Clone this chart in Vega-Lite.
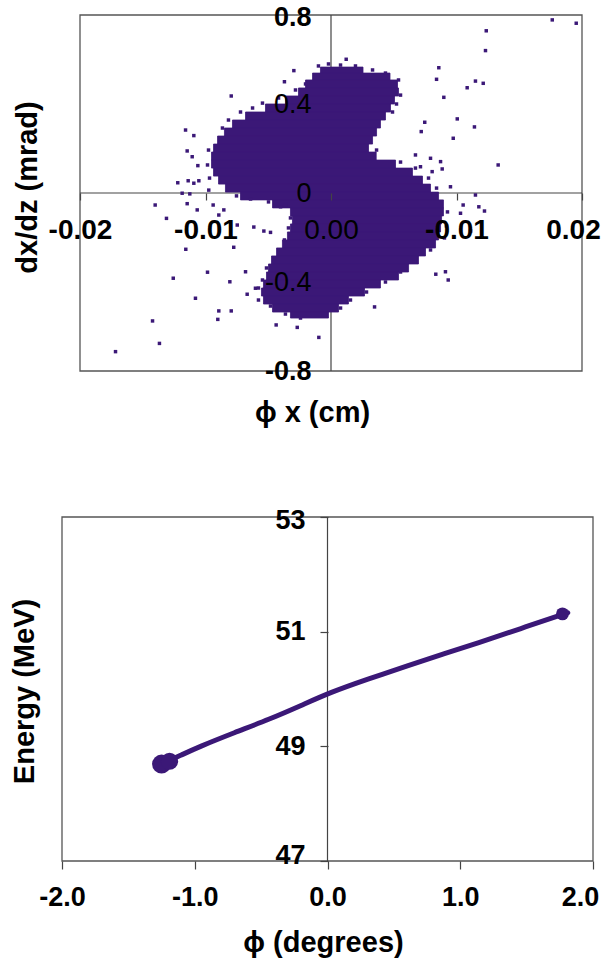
{
"$schema": "https://vega.github.io/schema/vega-lite/v6.json",
"width": 602, "height": 962, "autosize": "none", "padding": 0,
"background": "white",
"config": {"view": {"stroke": null}, "font": "Liberation Sans",
  "axis": {"labelFont": "Liberation Sans", "titleFont": "Liberation Sans", "labelColor": "#000", "titleColor": "#000", "tickColor": "#444", "tickWidth": 1.2, "grid": false, "domain": false, "labelOverlap": false, "labelBound": false, "labelFlush": false}},
"resolve": {"scale": {"x": "independent", "y": "independent"}},
"layer": [
{
 "layer": [
  {"data": {"values": [{"x1": -0.02, "x2": 0.02, "y1": -0.8, "y2": 0.8}]},
   "mark": {"type": "rect", "filled": false, "stroke": "#555", "strokeWidth": 1.3},
   "encoding": {
    "x": {"field": "x1", "type": "quantitative", "scale": {"domain": [-0.02, 0.02], "range": [80, 582], "nice": false, "zero": false},
      "axis": {"title": "ϕ x (cm)", "orient": "bottom", "offset": -769, "zindex": 1, "values": [-0.02, -0.01, 0, 0.01, 0.02], "tickSize": 7,
        "labelExpr": "datum.value == 0 ? '0.00' : datum.value > 0.015 ? '0.02' : datum.value > 0 ? '-0.01' : datum.value < -0.015 ? '-0.02' : '-0.01'",
        "labelFontSize": 28, "labelFontWeight": {"condition": {"test": "datum.value == 0", "value": "normal"}, "value": "bold"},
        "labelOffset": {"condition": {"test": "datum.value > 0.015", "value": -9}, "value": 0},
        "labelBaseline": "middle", "labelPadding": 30,
        "titleFontSize": 29, "titleFontWeight": "bold", "titleX": 312, "titleY": 219, "titleAlign": "center", "titleBaseline": "middle", "titleAngle": 0}},
    "x2": {"field": "x2"},
    "y": {"field": "y1", "type": "quantitative", "scale": {"domain": [-0.8, 0.8], "range": [371, 15], "nice": false, "zero": false},
      "axis": {"title": "dx/dz (mrad)", "orient": "left", "offset": -330, "zindex": 1, "values": [-0.8, -0.4, 0, 0.4, 0.8], "ticks": false, "tickSize": 0,
        "labelExpr": "datum.value == 0 ? '0' : (datum.value < 0 ? '-' : '') + format(abs(datum.value), '.1f')",
        "labelFontSize": 27, "labelFontWeight": {"condition": {"test": "abs(datum.value) < 0.5", "value": "normal"}, "value": "bold"},
        "labelOffset": {"condition": {"test": "datum.value > 0.7", "value": 2}, "value": 0},
        "labelBaseline": "middle", "labelAlign": "right", "labelPadding": 19,
        "titleFontSize": 29, "titleFontWeight": "bold", "titleX": -303, "titleY": 187, "titleAngle": -90, "titleAlign": "center", "titleBaseline": "middle"}},
    "y2": {"field": "y2"}}},
  {"data": {"values": [{"x1": -0.02, "x2": 0.02, "y1": 0, "y2": 0}, {"x1": 0, "x2": 0, "y1": -0.8, "y2": 0.8}]},
   "mark": {"type": "rule", "color": "#444", "strokeWidth": 1.2},
   "encoding": {
    "x": {"field": "x1", "type": "quantitative", "scale": {"domain": [-0.02, 0.02], "range": [80, 582], "nice": false, "zero": false}},
    "x2": {"field": "x2"},
    "y": {"field": "y1", "type": "quantitative", "scale": {"domain": [-0.8, 0.8], "range": [371, 15], "nice": false, "zero": false}},
    "y2": {"field": "y2"}}},
  {"data": {"values": [
    {"x1": -0.00084, "x2": 0.00255, "y1": 0.539, "y2": 0.566},
    {"x1": -0.00147, "x2": 0.00470, "y1": 0.508, "y2": 0.539},
    {"x1": -0.00203, "x2": 0.00530, "y1": 0.472, "y2": 0.508},
    {"x1": -0.00259, "x2": 0.00538, "y1": 0.436, "y2": 0.472},
    {"x1": -0.00363, "x2": 0.00506, "y1": 0.400, "y2": 0.436},
    {"x1": -0.00522, "x2": 0.00474, "y1": 0.364, "y2": 0.400},
    {"x1": -0.00681, "x2": 0.00434, "y1": 0.328, "y2": 0.364},
    {"x1": -0.00785, "x2": 0.00394, "y1": 0.292, "y2": 0.328},
    {"x1": -0.00849, "x2": 0.00363, "y1": 0.256, "y2": 0.292},
    {"x1": -0.00904, "x2": 0.00331, "y1": 0.220, "y2": 0.256},
    {"x1": -0.00936, "x2": 0.00299, "y1": 0.184, "y2": 0.220},
    {"x1": -0.00952, "x2": 0.00360, "y1": 0.148, "y2": 0.184},
    {"x1": -0.00952, "x2": 0.00514, "y1": 0.112, "y2": 0.148},
    {"x1": -0.00936, "x2": 0.00649, "y1": 0.076, "y2": 0.112},
    {"x1": -0.00896, "x2": 0.00729, "y1": 0.040, "y2": 0.076},
    {"x1": -0.00841, "x2": 0.00793, "y1": 0.004, "y2": 0.040},
    {"x1": -0.00721, "x2": 0.00857, "y1": -0.031, "y2": 0.004},
    {"x1": -0.00466, "x2": 0.00896, "y1": -0.067, "y2": -0.031},
    {"x1": -0.00323, "x2": 0.00896, "y1": -0.103, "y2": -0.067},
    {"x1": -0.00307, "x2": 0.00881, "y1": -0.139, "y2": -0.103},
    {"x1": -0.00323, "x2": 0.00873, "y1": -0.175, "y2": -0.139},
    {"x1": -0.00347, "x2": 0.00857, "y1": -0.211, "y2": -0.175},
    {"x1": -0.00387, "x2": 0.00833, "y1": -0.247, "y2": -0.211},
    {"x1": -0.00434, "x2": 0.00753, "y1": -0.283, "y2": -0.247},
    {"x1": -0.00474, "x2": 0.00697, "y1": -0.319, "y2": -0.283},
    {"x1": -0.00498, "x2": 0.00618, "y1": -0.355, "y2": -0.319},
    {"x1": -0.00514, "x2": 0.00538, "y1": -0.391, "y2": -0.355},
    {"x1": -0.00538, "x2": 0.00394, "y1": -0.427, "y2": -0.391},
    {"x1": -0.00554, "x2": 0.00267, "y1": -0.463, "y2": -0.427},
    {"x1": -0.00538, "x2": 0.00139, "y1": -0.499, "y2": -0.463},
    {"x1": -0.00466, "x2": 0.00060, "y1": -0.535, "y2": -0.499},
    {"x1": -0.00323, "x2": -0.00020, "y1": -0.562, "y2": -0.535}]},
   "mark": {"type": "rect", "color": "#3b1877", "stroke": "#3b1877", "strokeWidth": 0.8},
   "encoding": {
    "x": {"field": "x1", "type": "quantitative", "scale": {"domain": [-0.02, 0.02], "range": [80, 582], "nice": false, "zero": false}},
    "x2": {"field": "x2"},
    "y": {"field": "y1", "type": "quantitative", "scale": {"domain": [-0.8, 0.8], "range": [371, 15], "nice": false, "zero": false}},
    "y2": {"field": "y2"}}},
  {"data": {"values": [
    {"x1": 0.01763, "y1": 0.778}, {"x1": 0.01954, "y1": 0.763}, {"x1": 0.01237, "y1": 0.729}, {"x1": 0.01231, "y1": 0.640},
    {"x1": 0.00859, "y1": 0.563}, {"x1": 0.00841, "y1": 0.511}, {"x1": 0.01151, "y1": 0.503}, {"x1": 0.01213, "y1": 0.493},
    {"x1": 0.01085, "y1": 0.473}, {"x1": 0.00899, "y1": 0.430}, {"x1": 0.01006, "y1": 0.333}, {"x1": 0.01143, "y1": 0.297},
    {"x1": 0.00747, "y1": 0.318}, {"x1": 0.00719, "y1": 0.276}, {"x1": 0.00974, "y1": 0.246}, {"x1": 0.01332, "y1": 0.126},
    {"x1": 0.00121, "y1": 0.601}, {"x1": 0.00873, "y1": 0.141}, {"x1": 0.00793, "y1": 0.156}, {"x1": 0.00952, "y1": 0.028},
    {"x1": 0.01151, "y1": -0.009}, {"x1": 0.01178, "y1": -0.062}, {"x1": 0.01223, "y1": -0.081}, {"x1": 0.01032, "y1": -0.091},
    {"x1": 0.01112, "y1": -0.171}, {"x1": 0.01053, "y1": -0.054}, {"x1": 0.00835, "y1": -0.365}, {"x1": 0.00912, "y1": -0.354},
    {"x1": 0.00934, "y1": -0.391}, {"x1": 0.00347, "y1": -0.512}, {"x1": 0.00673, "y1": 0.171}, {"x1": 0.00713, "y1": 0.118},
    {"x1": 0.00806, "y1": 0.096}, {"x1": 0.00886, "y1": 0.108}, {"x1": -0.00296, "y1": 0.550}, {"x1": -0.00371, "y1": 0.500},
    {"x1": -0.00795, "y1": 0.436}, {"x1": -0.01159, "y1": 0.283}, {"x1": -0.01093, "y1": 0.258}, {"x1": -0.01146, "y1": 0.189},
    {"x1": -0.01106, "y1": 0.163}, {"x1": -0.01061, "y1": 0.123}, {"x1": -0.01221, "y1": 0.046}, {"x1": -0.01138, "y1": 0.055},
    {"x1": -0.01053, "y1": 0.055}, {"x1": -0.01093, "y1": 0.044}, {"x1": -0.00974, "y1": 0.013}, {"x1": -0.01186, "y1": -0.001},
    {"x1": -0.01125, "y1": -0.004}, {"x1": -0.01401, "y1": -0.054}, {"x1": -0.01146, "y1": -0.048}, {"x1": -0.01066, "y1": -0.076},
    {"x1": -0.01311, "y1": -0.114}, {"x1": -0.00939, "y1": -0.054}, {"x1": -0.00854, "y1": -0.076}, {"x1": -0.00894, "y1": -0.099},
    {"x1": -0.00747, "y1": -0.144}, {"x1": -0.00615, "y1": -0.153}, {"x1": -0.00535, "y1": -0.171}, {"x1": -0.01157, "y1": -0.253},
    {"x1": -0.00775, "y1": -0.244}, {"x1": -0.00984, "y1": -0.356}, {"x1": -0.00681, "y1": -0.354}, {"x1": -0.01257, "y1": -0.383},
    {"x1": -0.00806, "y1": -0.399}, {"x1": -0.00602, "y1": -0.428}, {"x1": -0.0108, "y1": -0.473}, {"x1": -0.00668, "y1": -0.455},
    {"x1": -0.00894, "y1": -0.530}, {"x1": -0.00795, "y1": -0.530}, {"x1": -0.00902, "y1": -0.568}, {"x1": -0.01422, "y1": -0.575},
    {"x1": -0.01367, "y1": -0.676}, {"x1": -0.01717, "y1": -0.713}, {"x1": -0.00437, "y1": -0.593}, {"x1": -0.00269, "y1": -0.604},
    {"x1": -0.00097, "y1": -0.649}, {"x1": -0.00402, "y1": -0.062}, {"x1": -0.00482, "y1": -0.177},
    {"x1": -0.00865, "y1": 0.292}, {"x1": -0.00817, "y1": 0.328}, {"x1": -0.00721, "y1": 0.364}, {"x1": -0.00625, "y1": 0.382},
    {"x1": -0.00546, "y1": 0.404}, {"x1": -0.00418, "y1": 0.427}, {"x1": -0.00283, "y1": 0.463}, {"x1": -0.00203, "y1": 0.490},
    {"x1": -0.001, "y1": 0.571}, {"x1": -0.0002, "y1": 0.580}, {"x1": 0.00076, "y1": 0.575}, {"x1": 0.00195, "y1": 0.571},
    {"x1": 0.00331, "y1": 0.553}, {"x1": 0.00434, "y1": 0.539}, {"x1": 0.00538, "y1": 0.508}, {"x1": 0.00554, "y1": 0.440},
    {"x1": 0.00522, "y1": 0.400}, {"x1": 0.0049, "y1": 0.364}, {"x1": -0.00976, "y1": 0.193}, {"x1": -0.00984, "y1": 0.126},
    {"x1": -0.00968, "y1": 0.067}, {"x1": 0.00928, "y1": -0.085}, {"x1": 0.0092, "y1": -0.148}, {"x1": 0.00904, "y1": -0.202},
    {"x1": 0.00793, "y1": -0.256}, {"x1": 0.00665, "y1": -0.310}, {"x1": 0.00554, "y1": -0.355}, {"x1": 0.00434, "y1": -0.400},
    {"x1": 0.00283, "y1": -0.445}, {"x1": 0.00155, "y1": -0.481}, {"x1": 0.00076, "y1": -0.517}, {"x1": -0.00243, "y1": -0.562},
    {"x1": -0.00363, "y1": -0.544}, {"x1": -0.00482, "y1": -0.508}, {"x1": -0.00578, "y1": -0.481}, {"x1": -0.00578, "y1": -0.427},
    {"x1": -0.00546, "y1": -0.391}, {"x1": -0.00514, "y1": -0.337}, {"x1": -0.00371, "y1": -0.211}, {"x1": -0.00339, "y1": -0.157},
    {"x1": -0.00323, "y1": -0.112}, {"x1": -0.00363, "y1": -0.054}, {"x1": -0.00498, "y1": -0.040}, {"x1": -0.00641, "y1": -0.027},
    {"x1": -0.00753, "y1": -0.013}, {"x1": 0.00363, "y1": 0.193}, {"x1": 0.00331, "y1": 0.157}, {"x1": 0.00554, "y1": 0.139},
    {"x1": 0.00673, "y1": 0.112}, {"x1": 0.00777, "y1": 0.067}, {"x1": 0.00841, "y1": 0.022}]},
   "mark": {"type": "point", "shape": "square", "filled": true, "size": 12, "color": "#3b1877", "opacity": 1},
   "encoding": {
    "x": {"field": "x1", "type": "quantitative", "scale": {"domain": [-0.02, 0.02], "range": [80, 582], "nice": false, "zero": false}},
    "y": {"field": "y1", "type": "quantitative", "scale": {"domain": [-0.8, 0.8], "range": [371, 15], "nice": false, "zero": false}}}}
 ]
},
{
 "layer": [
  {"data": {"values": [{"phi": -2, "phi2": 2, "E": 47, "E2": 53}]},
   "mark": {"type": "rect", "filled": false, "stroke": "#555", "strokeWidth": 1.3},
   "encoding": {
    "x": {"field": "phi", "type": "quantitative", "scale": {"domain": [-2, 2], "range": [62, 593], "nice": false, "zero": false},
      "axis": {"title": "ϕ (degrees)", "orient": "bottom", "offset": -101, "zindex": 1, "values": [-2, -1, 0, 1, 2], "tickSize": 8,
        "labelExpr": "(datum.value < 0 ? '-' : '') + format(abs(datum.value), '.1f')",
        "labelFontSize": 27, "labelFontWeight": "bold", "labelBaseline": "middle", "labelPadding": 28,
        "labelOffset": {"condition": {"test": "datum.value > 1.5", "value": -13}, "value": 0},
        "titleFontSize": 29, "titleFontWeight": "bold", "titleX": 323, "titleY": 81, "titleAlign": "center", "titleBaseline": "middle", "titleAngle": 0}},
    "x2": {"field": "phi2"},
    "y": {"field": "E", "type": "quantitative", "scale": {"domain": [47, 53], "range": [861, 517], "nice": false, "zero": false},
      "axis": {"title": "Energy (MeV)", "orient": "left", "offset": -328, "zindex": 1, "values": [47, 49, 51, 53], "tickSize": 8, "format": "d",
        "labelFontSize": 27, "labelFontWeight": "bold", "labelBaseline": "middle", "labelAlign": "right", "labelPadding": 15,
        "labelOffset": {"condition": [{"test": "datum.value > 52", "value": 3}, {"test": "datum.value < 48", "value": -6}], "value": 0},
        "titleFontSize": 29, "titleFontWeight": "bold", "titleX": -304, "titleY": 691, "titleAngle": -90, "titleAlign": "center", "titleBaseline": "middle"}},
    "y2": {"field": "E2"}}},
  {"data": {"values": [{"phi": 0, "E": 47, "E2": 53}]},
   "mark": {"type": "rule", "color": "#444", "strokeWidth": 1.2},
   "encoding": {
    "x": {"field": "phi", "type": "quantitative", "scale": {"domain": [-2, 2], "range": [62, 593], "nice": false, "zero": false}},
    "y": {"field": "E", "type": "quantitative", "scale": {"domain": [47, 53], "range": [861, 517], "nice": false, "zero": false}},
    "y2": {"field": "E2"}}},
  {"data": {"values": [
    {"phi": -1.24, "E": 48.70}, {"phi": -1.1, "E": 48.85}, {"phi": -0.97, "E": 48.99}, {"phi": -0.7, "E": 49.24},
    {"phi": -0.44, "E": 49.47}, {"phi": -0.2, "E": 49.71}, {"phi": 0.02, "E": 49.94}, {"phi": 0.3, "E": 50.17},
    {"phi": 0.61, "E": 50.41}, {"phi": 0.87, "E": 50.61}, {"phi": 1.13, "E": 50.80}, {"phi": 1.45, "E": 51.05},
    {"phi": 1.81, "E": 51.33}]},
   "mark": {"type": "line", "color": "#3b1877", "strokeWidth": 5, "strokeCap": "round", "interpolate": "basis"},
   "encoding": {
    "x": {"field": "phi", "type": "quantitative", "scale": {"domain": [-2, 2], "range": [62, 593], "nice": false, "zero": false}},
    "y": {"field": "E", "type": "quantitative", "scale": {"domain": [47, 53], "range": [861, 517], "nice": false, "zero": false}}}},
  {"data": {"values": [
    {"phi": -1.25, "E": 48.69, "s": 55}, {"phi": -1.19, "E": 48.74, "s": 45}, {"phi": 1.77, "E": 51.31, "s": 25}]},
   "mark": {"type": "circle", "color": "#3b1877", "opacity": 1},
   "encoding": {
    "x": {"field": "phi", "type": "quantitative", "scale": {"domain": [-2, 2], "range": [62, 593], "nice": false, "zero": false}},
    "y": {"field": "E", "type": "quantitative", "scale": {"domain": [47, 53], "range": [861, 517], "nice": false, "zero": false}},
    "size": {"field": "s", "type": "quantitative", "scale": {"type": "identity"}, "legend": null}}}
 ]
}
]
}
